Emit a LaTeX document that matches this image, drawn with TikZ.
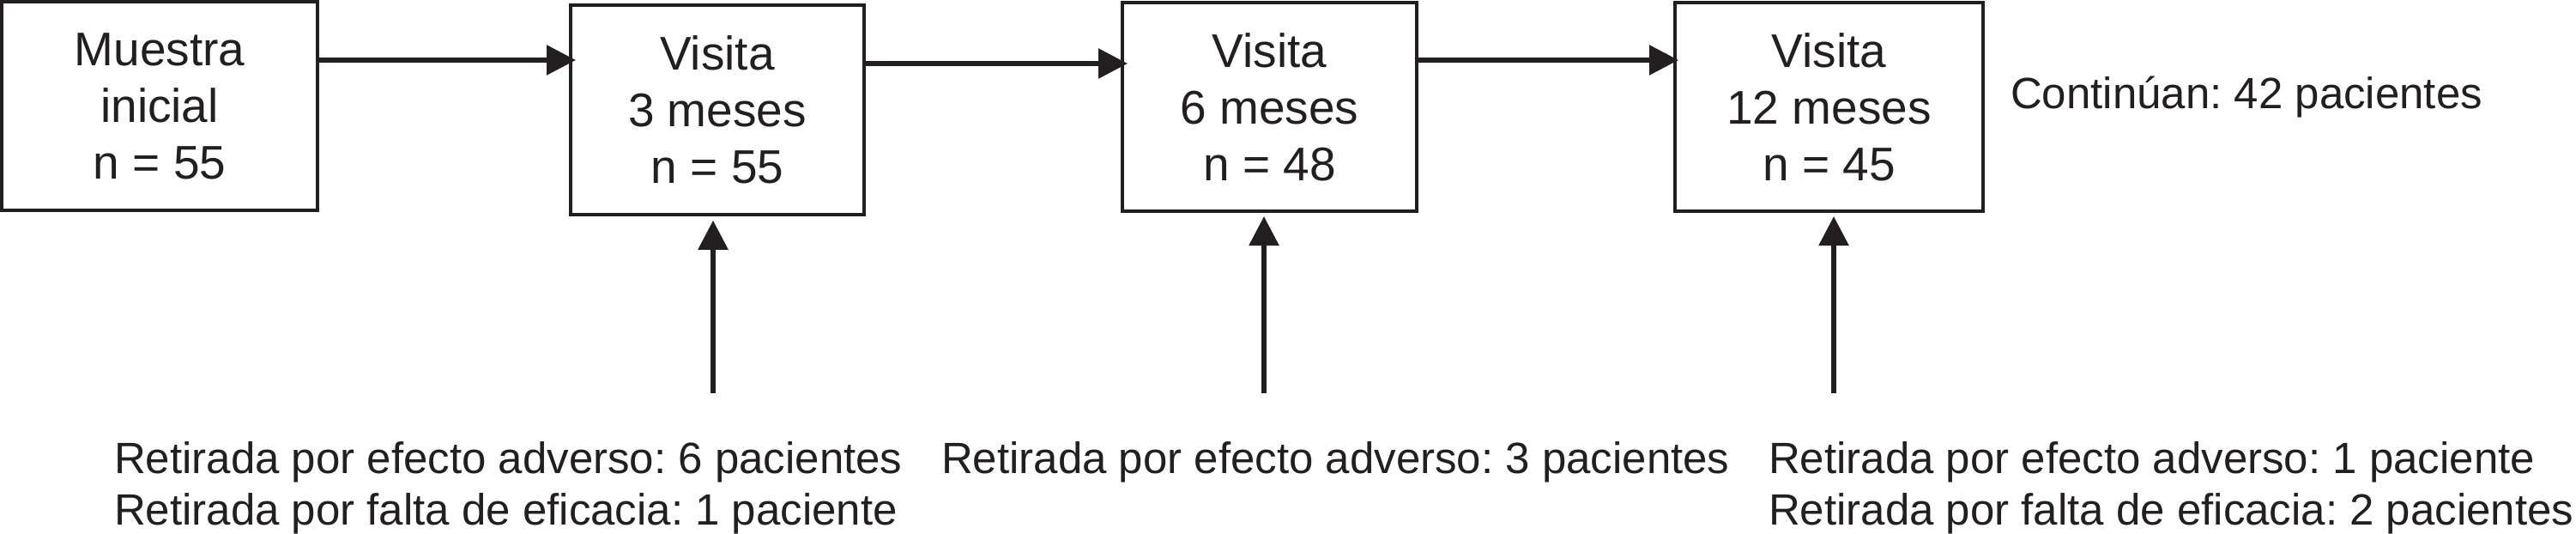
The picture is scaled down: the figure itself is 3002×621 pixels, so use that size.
\documentclass[tikz,border=0pt]{standalone}
\usepackage{fontspec}
\setmainfont{Liberation Sans}
\usetikzlibrary{arrows.meta}
\definecolor{ink}{RGB}{35,31,32}
\frenchspacing
\begin{document}
\begin{tikzpicture}[x=1pt,y=-1pt,
  box/.style={draw=ink, line width=4pt, inner sep=0pt, outer sep=0pt, align=center, text=ink, font=\fontsize{55}{66}\selectfont},
  flow/.style={draw=ink, line width=5.5pt, -{Triangle[length=34pt,width=34pt]}},
  note/.style={inner sep=0pt, outer sep=0pt, text=ink, align=left, anchor=base west, font=\fontsize{51}{60}\selectfont}]
\useasboundingbox (0,0) rectangle (3002,621);
\fill[white] (0,0) rectangle (3002,621);
\node[box, minimum width=368pt, minimum height=243pt] (b1) at (186,123.5) {Muestra\\inicial\\n = 55};
\node[box, minimum width=342pt, minimum height=243.5pt] (b2) at (836,128) {Visita\\3 meses\\n = 55};
\node[box, minimum width=343pt, minimum height=243pt] (b3) at (1479.5,124.5) {Visita\\6 meses\\n = 48};
\node[box, minimum width=359pt, minimum height=243pt] (b4) at (2131.5,124.5) {Visita\\12 meses\\n = 45};
\coordinate (h1) at (0,70);
\coordinate (h2) at (0,74);
\draw[flow, shorten >=-6pt] (b1.east |- h1) -- (b2.west |- h1);
\draw[flow, shorten >=-6pt] (b2.east |- h2) -- (b3.west |- h2);
\draw[flow, shorten >=-4pt] (b3.east |- h1) -- (b4.west |- h1);
\coordinate (u2) at (831,458);
\coordinate (u3) at (1473,458);
\coordinate (u4) at (2137,458);
\draw[flow, shorten >=7pt] (u2) -- (u2 |- b2.south);
\draw[flow, shorten >=6pt] (u3) -- (u3 |- b3.south);
\draw[flow, shorten >=6pt] (u4) -- (u4 |- b4.south);
\node[note] (t1) at (133,611) {Retirada por efecto adverso: 6 pacientes\\Retirada por falta de eficacia: 1 paciente};
\node[note] (t2) at (1097,551) {Retirada por efecto adverso: 3 pacientes};
\node[note] (t3) at (2061,611) {Retirada por efecto adverso: 1 paciente\\Retirada por falta de eficacia: 2 pacientes};
\node[note] (c) at (2343,126) {Continúan: 42 pacientes};
\end{tikzpicture}
\end{document}
